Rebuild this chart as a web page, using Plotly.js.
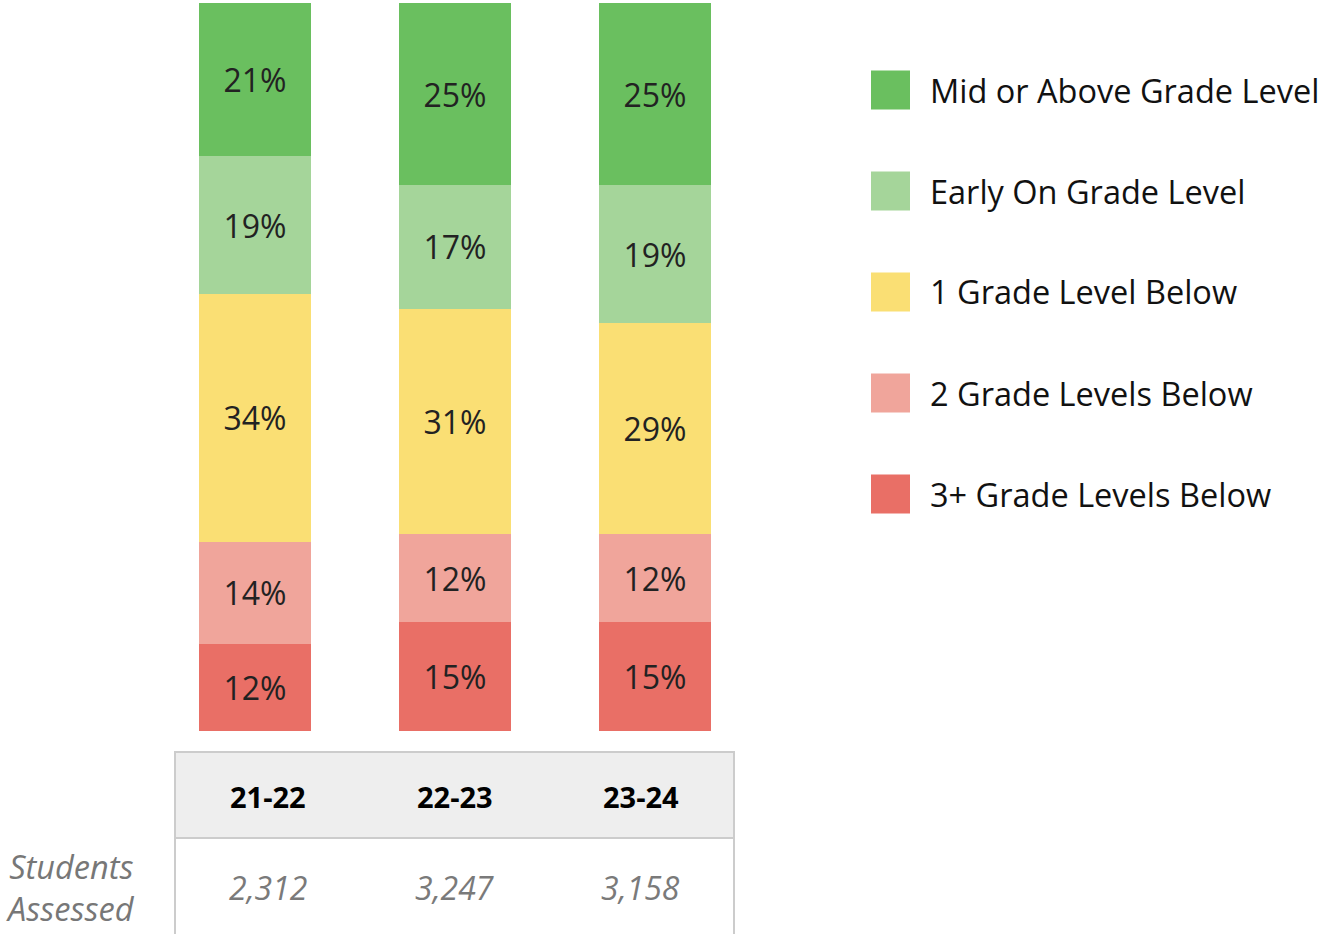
<!DOCTYPE html>
<html>
<head>
<meta charset="utf-8">
<script src="https://cdn.plot.ly/plotly-3.0.1.min.js"></script>
<style>html,body{margin:0;padding:0;background:#fff;}#chart{width:1324px;height:934px;}</style>
</head>
<body>
<div id="chart"></div>
<script>
// ---- data ----
const years = ["21-22", "22-23", "23-24"];
const studentsAssessed = ["2,312", "3,247", "3,158"];
const rowLabel = "Students<br>Assessed";

// stacked from bottom to top
const seriesNames = ["3+ Grade Levels Below", "2 Grade Levels Below", "1 Grade Level Below", "Early On Grade Level", "Mid or Above Grade Level"];
const threePlusBelow = [12, 15, 15];
const twoBelow = [14, 12, 12];
const oneBelow = [34, 31, 29];
const earlyOn = [19, 17, 19];
const midOrAbove = [21, 25, 25];
const seriesValues = [threePlusBelow, twoBelow, oneBelow, earlyOn, midOrAbove];
const seriesColors = ["#E96F66", "#F0A59B", "#FADF74", "#A5D59A", "#6ABF5F"];

// ---- layout helpers (pixels -> paper) ----
const W = 1324, H = 934;
const px = x => x / W;
const py = y => 1 - y / H;

const traces = seriesValues.map((vals, i) => ({
  type: "bar",
  name: seriesNames[i],
  x: years,
  y: vals,
  width: 0.56,
  marker: {color: seriesColors[i], line: {width: 0}},
  texttemplate: "%{y}%",
  textposition: "inside",
  insidetextanchor: "middle",
  textangle: 0,
  constraintext: "none",
  textfont: {family: "Open Sans", size: 32, color: "#222222"},
  hoverinfo: "skip"
}));

const shapes = [];
const annotations = [];

// legend (top to bottom: reverse of stack order)
const legendOrder = seriesNames.map((n, i) => i).reverse();
legendOrder.forEach((si, k) => {
  const yc = 90 + 101 * k;
  shapes.push({type: "rect", xref: "paper", yref: "paper",
    x0: px(871), x1: px(910), y0: py(yc + 19.5), y1: py(yc - 19.5),
    fillcolor: seriesColors[si], line: {width: 0}});
  annotations.push({xref: "paper", yref: "paper", x: px(928), y: py(yc),
    xanchor: "left", yanchor: "middle", showarrow: false,
    text: seriesNames[si], font: {family: "Open Sans", size: 32.5, color: "#111111"}});
});

// table
const tL = 175, tR = 734, hTop = 752, hBot = 838, bBot = 940;
shapes.push({type: "rect", xref: "paper", yref: "paper", x0: px(tL), x1: px(tR), y0: py(hBot), y1: py(hTop),
  fillcolor: "#EEEEEE", line: {color: "#CCCCCC", width: 2}, layer: "below"});
shapes.push({type: "rect", xref: "paper", yref: "paper", x0: px(tL), x1: px(tR), y0: py(bBot), y1: py(hBot),
  fillcolor: "rgba(0,0,0,0)", line: {color: "#CCCCCC", width: 2}});
const colW = (tR - tL) / years.length;
years.forEach((yr, i) => {
  const cx = tL + colW * (i + 0.5);
  annotations.push({xref: "paper", yref: "paper", x: px(cx), y: py(796), xanchor: "center", yanchor: "middle",
    showarrow: false, text: "<b>" + yr + "</b>", font: {family: "Open Sans", size: 29, color: "#000000"}});
  annotations.push({xref: "paper", yref: "paper", x: px(cx), y: py(887), xanchor: "center", yanchor: "middle",
    showarrow: false, text: "<i>" + studentsAssessed[i] + "</i>", font: {family: "Open Sans", size: 32, color: "#7A7A7A"}});
});
annotations.push({xref: "paper", yref: "paper", x: px(137), y: py(887), xanchor: "right", yanchor: "middle",
  align: "right", showarrow: false, text: "<i>" + rowLabel + "</i>",
  font: {family: "Open Sans", size: 32.5, color: "#777777"}});

const layout = {
  width: W, height: H,
  margin: {l: 0, r: 0, t: 0, b: 0},
  paper_bgcolor: "#ffffff", plot_bgcolor: "#ffffff",
  barmode: "stack",
  bargap: 0,
  showlegend: false,
  xaxis: {domain: [px(155), px(755)], range: [-0.5, 2.5], visible: false, fixedrange: true},
  yaxis: {domain: [py(731), py(3)], range: [0, 100], visible: false, fixedrange: true},
  shapes: shapes,
  annotations: annotations
};

Plotly.newPlot("chart", traces, layout, {displayModeBar: false, staticPlot: true});
</script>
</body>
</html>
